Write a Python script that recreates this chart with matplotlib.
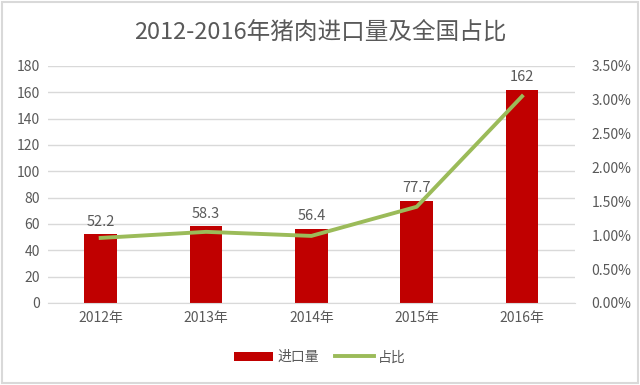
import matplotlib
matplotlib.use("Agg")
import matplotlib.pyplot as plt
from matplotlib.ticker import FuncFormatter
from matplotlib.patches import Rectangle

plt.rcParams['font.family'] = ['Noto Sans CJK SC', 'DejaVu Sans']

years = ["2012年", "2013年", "2014年", "2015年", "2016年"]
imports = [52.2, 58.3, 56.4, 77.7, 162]
share = [0.0096, 0.0105, 0.0099, 0.0142, 0.0305]

gray = "#595959"
fig = plt.figure(figsize=(6.4, 3.85), dpi=100)
fig.patch.set_facecolor("white")
fig.patches.append(Rectangle((0.003, 0.005), 0.994, 0.99, transform=fig.transFigure,
                             fill=False, edgecolor="#d9d9d9", linewidth=1.5))

ax = fig.add_axes([0.075, 0.213, 0.823, 0.616])
x = list(range(len(years)))
bars = ax.bar(x, imports, width=0.31, color="#C00000", label="进口量", zorder=2)
ax.set_ylim(0, 180)
ax.set_yticks(range(0, 181, 20))
ax.set_xlim(-0.5, 4.5)
ax.set_xticks(x)
ax.set_xticklabels(years)
ax.grid(axis="y", color="#d9d9d9", linewidth=1, zorder=0)
ax.set_axisbelow(True)
for s in ["top", "right", "left"]:
    ax.spines[s].set_visible(False)
ax.spines["bottom"].set_color("#d9d9d9")
ax.tick_params(axis="both", length=0, colors=gray, labelsize=10, pad=6)
for xi, v in zip(x, imports):
    ax.text(xi, v + 4, f"{v:g}", ha="center", va="bottom", color=gray, fontsize=10.5)

ax2 = ax.twinx()
line, = ax2.plot(x, share, color="#9BBB59", linewidth=2.8, label="占比", zorder=3)
ax2.set_ylim(0, 0.035)
ax2.set_yticks([i * 0.005 for i in range(8)])
ax2.yaxis.set_major_formatter(FuncFormatter(lambda v, p: f"{v*100:.2f}%"))
for s in ["top", "right", "left", "bottom"]:
    ax2.spines[s].set_visible(False)
ax2.tick_params(axis="y", length=0, colors=gray, labelsize=10, pad=12)

fig.suptitle("2012-2016年猪肉进口量及全国占比", x=0.5, y=0.945, fontsize=17, color=gray)

fig.legend(handles=[bars, line], labels=["进口量", "占比"], loc="center",
           bbox_to_anchor=(0.5, 0.072), ncol=2, frameon=False, fontsize=10,
           labelcolor=gray, handlelength=2.8, handletextpad=0.3, columnspacing=1.2)

fig.savefig("out.png", dpi=100, facecolor="white")
